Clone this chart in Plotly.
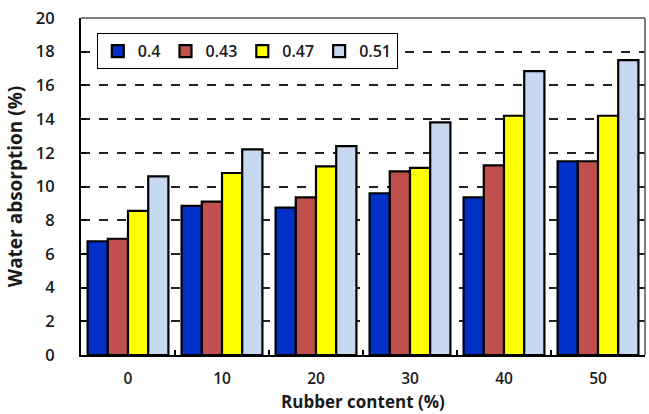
import plotly.graph_objects as go

rubber_content = ["0", "10", "20", "30", "40", "50"]
series_names = ["0.4", "0.43", "0.47", "0.51"]
absorption_04 = [6.75, 8.85, 8.75, 9.6, 9.35, 11.5]
absorption_043 = [6.9, 9.1, 9.35, 10.9, 11.25, 11.5]
absorption_047 = [8.55, 10.8, 11.2, 11.1, 14.2, 14.2]
absorption_051 = [10.6, 12.2, 12.4, 13.8, 16.85, 17.5]
y_ticks = [0, 2, 4, 6, 8, 10, 12, 14, 16, 18, 20]

colors = ["#0030C8", "#C0504D", "#FFFF00", "#C6D9F0"]
series_values = [absorption_04, absorption_043, absorption_047, absorption_051]

font_family = "Open Sans"
text_col = "#1a1a1a"

fig = go.Figure()
for name, vals, col in zip(series_names, series_values, colors):
    fig.add_trace(go.Bar(
        x=rubber_content, y=vals, name=name,
        marker=dict(color=col, line=dict(color="black", width=2.2)),
    ))

fig.update_layout(
    width=649, height=414,
    margin=dict(l=81, r=4, t=18, b=59),
    paper_bgcolor="white", plot_bgcolor="white",
    barmode="group", bargap=0.14, bargroupgap=0.0,
    font=dict(family=font_family, color=text_col, size=14),
    legend=dict(
        orientation="h", x=0.028, y=0.955, xanchor="left", yanchor="top",
        bgcolor="white", bordercolor="black", borderwidth=1,
        font=dict(family=font_family, size=16, color=text_col, weight=600),
        itemwidth=30, traceorder="normal",
    ),
    xaxis=dict(
        type="category",
        showline=True, linecolor="black", linewidth=2,
        ticks="inside", tickson="boundaries", ticklen=5, tickcolor="black", tickwidth=2,
        ticklabelstandoff=8,
        tickfont=dict(family=font_family, size=15.5, color=text_col, weight=600),
        showgrid=False,
    ),
    yaxis=dict(
        range=[0, 20], tickvals=y_ticks,
        showline=True, linecolor="black", linewidth=2,
        ticks="inside", ticklen=5, tickcolor="black", tickwidth=2,
        ticklabelstandoff=21,
        tickfont=dict(family=font_family, size=16.5, color=text_col, weight=600),
        title=dict(text="Water absorption (%)", standoff=8,
                   font=dict(family=font_family, size=19, color=text_col, weight="bold")),
        showgrid=True, gridcolor="#222", gridwidth=1.5, griddash="dash",
        zeroline=False,
    ),
)

# x-axis title placed just under the category labels
fig.add_annotation(text="Rubber content (%)", xref="paper", yref="paper",
                   x=0.5, y=-0.137, xanchor="center", yanchor="middle",
                   showarrow=False, borderpad=0,
                   font=dict(family=font_family, size=17, color=text_col, weight="bold"))

# Thin grey frame on the top and right sides of the plot area
fig.add_shape(type="line", xref="paper", yref="paper", x0=0, x1=1, y0=1, y1=1,
              line=dict(color="#555", width=1.5))
fig.add_shape(type="line", xref="paper", yref="paper", x0=1, x1=1, y0=0, y1=1,
              line=dict(color="#555", width=1.5))

fig.write_html("out.html")
